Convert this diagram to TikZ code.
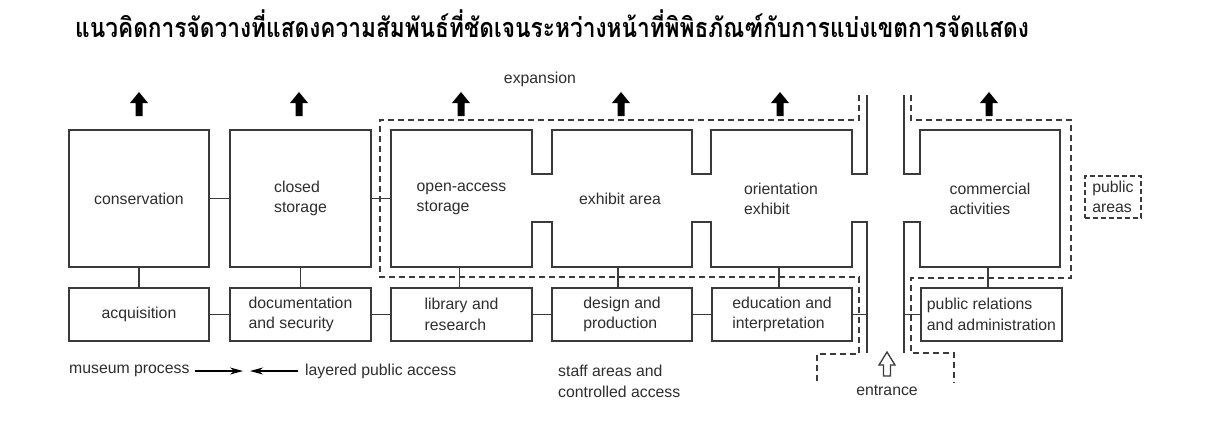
\documentclass[tikz,border=0pt]{standalone}
\usepackage{fontspec}
\setmainfont{Liberation Sans}
\newfontfamily\thaifont[Script=Thai]{Loma}
\usetikzlibrary{arrows.meta}
\definecolor{ln}{HTML}{3A3A3A}
\definecolor{tx}{HTML}{2E2E2E}
\begin{document}
\begin{tikzpicture}[x=1pt,y=-1pt,
  outline/.style={draw=ln, line width=1.4pt},
  room/.style={draw=ln, line width=1.4pt, minimum width=140pt, minimum height=137pt, inner sep=0pt, text=tx, font=\fontsize{15.8}{20}\selectfont, align=left},
  ghost/.style={room, draw=none},
  svc/.style={draw=ln, line width=1.4pt, minimum width=140pt, minimum height=53pt, inner sep=0pt, text=tx, font=\fontsize{15.8}{20.5}\selectfont, align=left},
  lbl/.style={text=tx, font=\fontsize{15.8}{20}\selectfont, align=left, inner sep=0pt},
  zone/.style={draw=ln, line width=1.4pt, dash pattern=on 6pt off 4pt},
  link/.style={draw=ln, line width=1.7pt},
  arr/.style={draw=black, line width=1.2pt, -{Stealth[length=13pt,width=7pt]}},
  blockup/.pic={\fill[black] (0,0)--(9,11)--(3.5,11)--(3.5,24)--(-3.5,24)--(-3.5,11)--(-9,11)--cycle;},
  hollowup/.pic={\draw[ln, line width=1.3pt, fill=white] (0,0)--(8,13)--(3.5,13)--(3.5,24)--(-3.5,24)--(-3.5,13)--(-8,13)--cycle;}
]
\useasboundingbox[fill=white] (0,0) rectangle (1206,429);

% title
\node[anchor=base west, inner sep=0pt, font=\thaifont\bfseries\fontsize{27}{30}\selectfont] (title) at (75,37) {\scalebox{0.84}[1]{แนวคิดการจัดวางที่แสดงความสัมพันธ์ที่ชัดเจนระหว่างหน้าที่พิพิธภัณฑ์กับการแบ่งเขตการจัดแสดง}};

% dashed zones
\draw[zone] (859,95)--(859,120)--(380,120)--(380,277)--(859,277)--(859,354)--(817,354)--(817,383);
\draw[zone] (911,95)--(911,120)--(1071,120)--(1071,278)--(911,278)--(911,353)--(954,353)--(954,383);

% top rooms
\node[room] (cons) at (139,198.5) {conservation};
\node[room, minimum width=141pt] (closed) at (300.5,198.5) {closed\\storage};
\node[ghost, minimum width=141pt] (openacc) at (461.5,198.5) {open-access\\storage};
\node[ghost] (exhibit) at (620,198.5) {exhibit area};
\node[ghost, minimum width=141pt] (orient) at (781,198.5) {orientation\\exhibit};
\node[ghost] (comm) at (990,198.5) {commercial\\activities};

% notched outlines and walls
\draw[outline] (867,95)--(867,174)--(852,174)--(852,130)--(711,130)--(711,174)--(692,174)--(692,130)--(552,130)--(552,174)--(532,174)--(532,130)--(391,130)--(391,267)--(532,267)--(532,222)--(552,222)--(552,267)--(692,267)--(692,222)--(711,222)--(711,267)--(852,267)--(852,222)--(867,222)--(867,353);
\draw[outline] (904,95)--(904,174)--(920,174)--(920,130)--(1060,130)--(1060,267)--(920,267)--(920,222)--(904,222)--(904,353);

% bottom row
\node[svc] (acq) at (139,314.5) {acquisition};
\node[svc, minimum width=141pt] (doc) at (300.5,314.5) {documentation\\and security};
\node[svc, minimum width=141pt] (lib) at (461.5,314.5) {library and\\research};
\node[svc] (design) at (622,314.5) {design and\\production};
\node[svc] (edu) at (782,314.5) {education and\\interpretation};
\node[svc, minimum width=141pt] (pr) at (991.5,314.5) {public relations\\and administration};

\coordinate (wallL) at (867,314.5);
\coordinate (wallR) at (904,314.5);

% connectors
\draw[link] (cons.east) -- (closed.west);
\draw[link] (closed.east) -- (openacc.west);
\draw[link] (cons.south) -- (acq.north);
\draw[link] (closed.south) -- (doc.north);
\draw[link] ([xshift=-2pt]openacc.south) -- ([xshift=-2pt]lib.north);
\draw[link] ([xshift=-2pt]exhibit.south) -- ([xshift=-4pt]design.north);
\draw[link] ([xshift=-2pt]orient.south) -- ([xshift=-3pt]edu.north);
\draw[link] ([xshift=-2pt]comm.south) -- ([xshift=-3.5pt]pr.north);
\draw[link] (acq.east) -- (doc.west);
\draw[link] (doc.east) -- (lib.west);
\draw[link] (lib.east) -- (design.west);
\draw[link] (design.east) -- (edu.west);
\draw[link] (edu.east) -- (wallL);
\draw[link] (wallR) -- (pr.west);

% arrows up
\pic at (139,92) {blockup};
\pic at (299,92) {blockup};
\pic at (461,92) {blockup};
\pic at (621,92) {blockup};
\pic at (780,92) {blockup};
\pic at (989,92) {blockup};
\pic at (887,352) {hollowup};

% labels
\node[lbl] (exp) at (540,79) {expansion};
\node[lbl, draw=ln, line width=1.3pt, dash pattern=on 5pt off 3pt, minimum width=56pt, minimum height=42pt] (pub) at (1113,197) {public\\areas};
\node[lbl, anchor=west] (mp) at (69,371) {museum process};
\node[lbl, anchor=west] (lpa) at (305,371) {layered public access};
\coordinate (mpend) at (243,371);
\coordinate (lpaend) at (250,371);
\draw[arr] ([xshift=5pt]mp.east) -- (mpend);
\draw[arr] ([xshift=-7pt]lpa.west) -- (lpaend);
\node[lbl, anchor=west, font=\fontsize{15.8}{21}\selectfont] (staff) at (558,381.5) {staff areas and\\controlled access};
\node[lbl] (ent) at (887,390) {entrance};
\end{tikzpicture}
\end{document}
